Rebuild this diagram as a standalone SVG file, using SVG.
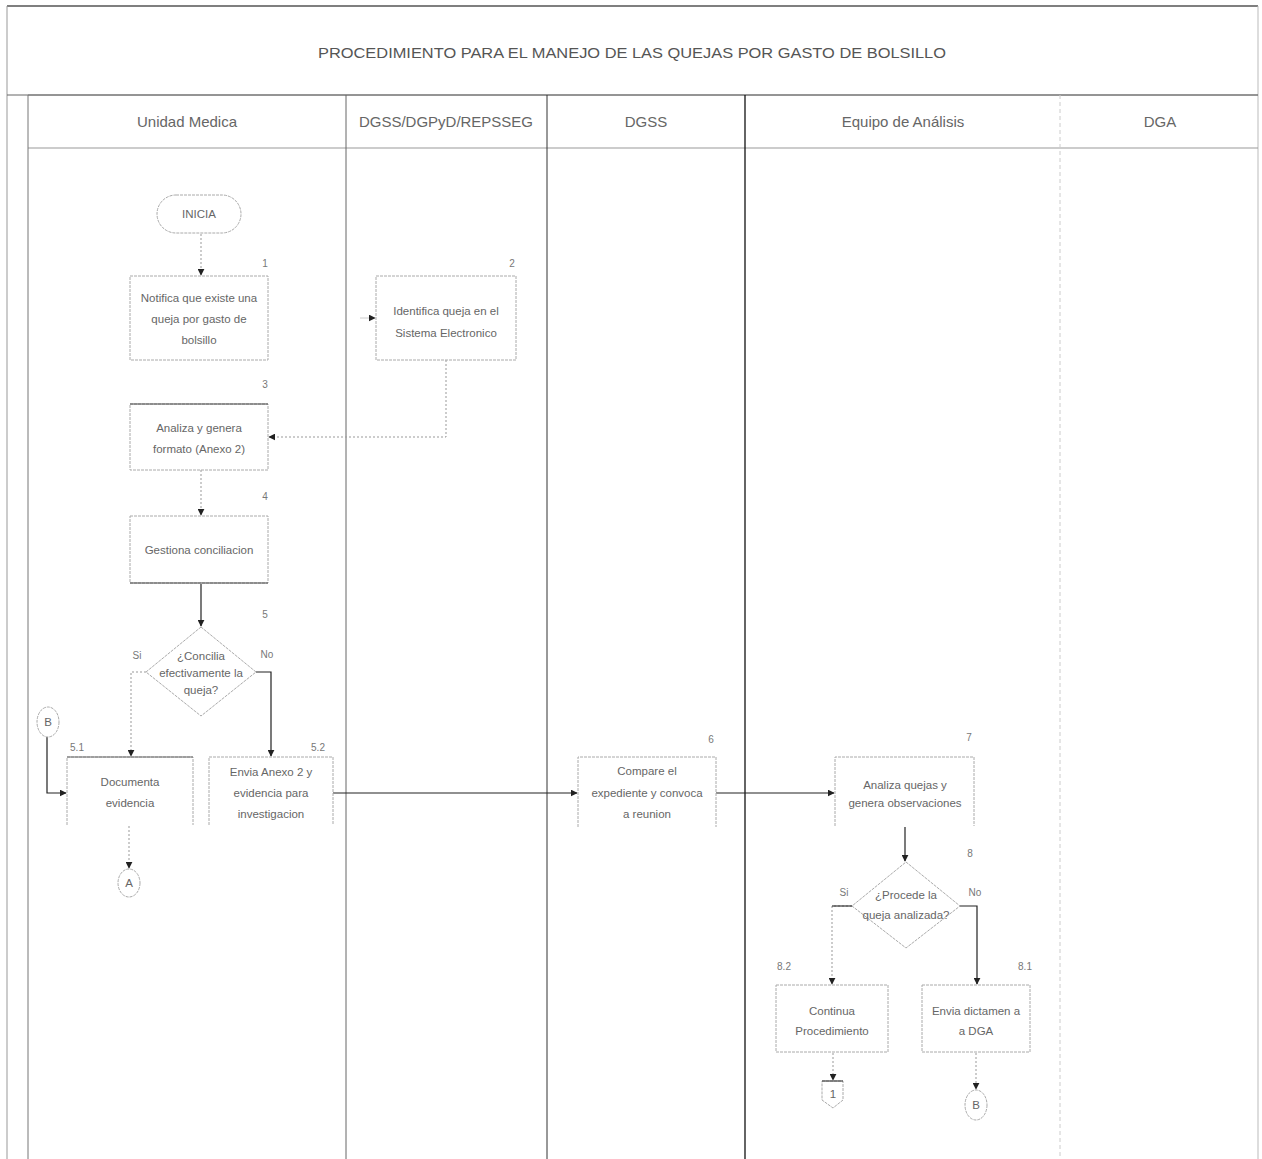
<svg xmlns="http://www.w3.org/2000/svg" width="1262" height="1159" viewBox="0 0 1262 1159">
<defs>
<marker id="ah" viewBox="0 0 10 10" refX="9" refY="5" markerWidth="7" markerHeight="7" orient="auto" markerUnits="userSpaceOnUse">
<path d="M0,0 L10,5 L0,10 z" fill="#222"/>
</marker>
</defs>
<style>
text{font-family:"Liberation Sans",Arial,sans-serif;fill:#555;}
.title{font-size:15px;text-anchor:middle;}
.hdr{font-size:15px;text-anchor:middle;fill:#666;}
.t{font-size:11.5px;text-anchor:middle;fill:#666;}
.n{font-size:10px;text-anchor:middle;fill:#777;}
.box{fill:#fff;stroke:#aaa;stroke-width:1;stroke-dasharray:3 1;}
.dk{stroke:#444;stroke-width:1.2;fill:none;}
.conn{fill:none;stroke:#999;stroke-width:1;stroke-dasharray:2 2;}
.solid{fill:none;stroke:#222;stroke-width:1.2;}
.lane{stroke:#777;stroke-width:1;}
</style>
<rect width="1262" height="1159" fill="#fff"/>
<g id="frame">
<line x1="7" y1="6" x2="1258" y2="6" stroke="#555" stroke-width="1.5"/>
<line x1="7" y1="6" x2="7" y2="1159" stroke="#999"/>
<line x1="1258" y1="6" x2="1258" y2="1159" stroke="#bbb"/>
<line x1="7" y1="95" x2="1258" y2="95" stroke="#666"/>
<line x1="28" y1="95" x2="1258" y2="95" stroke="#777"/>
<line x1="28" y1="148" x2="1258" y2="148" stroke="#999"/>
<line x1="28" y1="95" x2="28" y2="1159" stroke="#777"/>
<line x1="346" y1="95" x2="346" y2="1159" stroke="#666"/>
<line x1="547" y1="95" x2="547" y2="1159" stroke="#333"/>
<line x1="745" y1="95" x2="745" y2="1159" stroke="#111" stroke-width="1.3"/>
<line x1="1060" y1="95" x2="1060" y2="1159" stroke="#ccc" stroke-dasharray="4 3"/>
<text class="title" x="632" y="58" textLength="628" lengthAdjust="spacingAndGlyphs">PROCEDIMIENTO PARA EL MANEJO DE LAS QUEJAS POR GASTO DE BOLSILLO</text>
<text class="hdr" x="187" y="127">Unidad Medica</text>
<text class="hdr" x="446" y="127" textLength="174" lengthAdjust="spacingAndGlyphs">DGSS/DGPyD/REPSSEG</text>
<text class="hdr" x="646" y="127">DGSS</text>
<text class="hdr" x="903" y="127">Equipo de Análisis</text>
<text class="hdr" x="1160" y="127">DGA</text>
</g>
<g id="connectors">
<line class="conn" x1="201" y1="234" x2="201" y2="275" marker-end="url(#ah)"/>
<line x1="360" y1="318" x2="375" y2="318" stroke="#ccc" marker-end="url(#ah)"/>
<polyline class="conn" points="446,360 446,437 269,437" marker-end="url(#ah)"/>
<line class="conn" x1="201" y1="470" x2="201" y2="515" marker-end="url(#ah)"/>
<line class="solid" x1="201" y1="584" x2="201" y2="626" marker-end="url(#ah)"/>
<polyline class="conn" points="146,672 131,672 131,756" marker-end="url(#ah)"/>
<polyline class="solid" points="256,672 271,672 271,756" stroke="#555" marker-end="url(#ah)"/>
<polyline class="solid" points="47,737 47,793 66,793" marker-end="url(#ah)"/>
<line class="conn" x1="129" y1="826" x2="129" y2="868" marker-end="url(#ah)"/>
<line class="solid" x1="333" y1="793" x2="577" y2="793" marker-end="url(#ah)"/>
<line class="solid" x1="716" y1="793" x2="834" y2="793" marker-end="url(#ah)"/>
<line class="solid" x1="905" y1="827" x2="905" y2="861" marker-end="url(#ah)"/>
<polyline class="conn" points="852,906 832,906 832,984" marker-end="url(#ah)"/>
<line x1="832" y1="906" x2="852" y2="906" stroke="#333" stroke-width="1.2"/>
<polyline class="solid" points="960,906 977,906 977,984" marker-end="url(#ah)"/>
<line class="conn" x1="833" y1="1053" x2="833" y2="1080" marker-end="url(#ah)"/>
<line class="conn" x1="976" y1="1053" x2="976" y2="1089" marker-end="url(#ah)"/>
</g>
<g id="start">
<rect x="157" y="195" width="84" height="38" rx="19" class="box"/>
<text class="t" x="199" y="218">INICIA</text>
</g>
<g id="n1">
<rect x="130" y="276" width="138" height="84" class="box"/>
<text class="n" x="265" y="267">1</text>
<text class="t" x="199" y="302">Notifica que existe una</text>
<text class="t" x="199" y="323">queja por gasto de</text>
<text class="t" x="199" y="344">bolsillo</text>
</g>
<g id="n2">
<rect x="376" y="276" width="140" height="84" class="box"/>
<text class="n" x="512" y="267">2</text>
<text class="t" x="446" y="315">Identifica queja en el</text>
<text class="t" x="446" y="337">Sistema Electronico</text>
</g>
<g id="n3">
<rect x="130" y="404" width="138" height="66" class="box"/>
<line x1="130" y1="404" x2="268" y2="404" class="dk"/>
<text class="n" x="265" y="388">3</text>
<text class="t" x="199" y="432">Analiza y genera</text>
<text class="t" x="199" y="453">formato (Anexo 2)</text>
</g>
<g id="n4">
<rect x="130" y="516" width="138" height="67" class="box"/>
<line x1="130" y1="583" x2="268" y2="583" class="dk"/>
<text class="n" x="265" y="500">4</text>
<text class="t" x="199" y="554">Gestiona conciliacion</text>
</g>
<g id="d5">
<polygon points="201,627 256,672 201,716 146,672" class="box"/>
<text class="n" x="265" y="618">5</text>
<text class="t" x="201" y="660">¿Concilia</text>
<text class="t" x="201" y="677">efectivamente la</text>
<text class="t" x="201" y="694">queja?</text>
<text class="n" x="137" y="659">Si</text>
<text class="n" x="267" y="658">No</text>
</g>
<g id="cB1">
<ellipse cx="48" cy="722" rx="11" ry="15" class="box"/>
<text class="t" x="48" y="726">B</text>
</g>
<g id="n51">
<path d="M67,825 L67,757 L193,757 L193,825" class="box"/>
<line x1="67" y1="757" x2="193" y2="757" stroke="#666"/>
<text class="n" x="77" y="751">5.1</text>
<text class="t" x="130" y="786">Documenta</text>
<text class="t" x="130" y="807">evidencia</text>
</g>
<g id="n52">
<path d="M209,825 L209,757 L333,757 L333,825" class="box"/>
<text class="n" x="318" y="751">5.2</text>
<text class="t" x="271" y="776">Envia Anexo 2 y</text>
<text class="t" x="271" y="797">evidencia para</text>
<text class="t" x="271" y="818">investigacion</text>
</g>
<g id="cA">
<ellipse cx="129" cy="883" rx="11" ry="14" class="box"/>
<text class="t" x="129" y="887">A</text>
</g>
<g id="n6">
<path d="M578,827 L578,757 L716,757 L716,827" class="box"/>
<text class="n" x="711" y="743">6</text>
<text class="t" x="647" y="775">Compare el</text>
<text class="t" x="647" y="797">expediente y convoca</text>
<text class="t" x="647" y="818">a reunion</text>
</g>
<g id="n7">
<path d="M835,826 L835,757 L974,757 L974,826" class="box"/>
<text class="n" x="969" y="741">7</text>
<text class="t" x="905" y="789">Analiza quejas y</text>
<text class="t" x="905" y="807">genera observaciones</text>
</g>
<g id="d8">
<polygon points="906,862 960,906 906,948 852,906" class="box"/>
<text class="n" x="970" y="857">8</text>
<text class="t" x="906" y="899">¿Procede la</text>
<text class="t" x="906" y="919">queja analizada?</text>
<text class="n" x="844" y="896">Si</text>
<text class="n" x="975" y="896">No</text>
</g>
<g id="n82">
<rect x="776" y="985" width="112" height="67" class="box"/>
<text class="n" x="784" y="970">8.2</text>
<text class="t" x="832" y="1015">Continua</text>
<text class="t" x="832" y="1035">Procedimiento</text>
</g>
<g id="n81">
<rect x="922" y="985" width="108" height="67" class="box"/>
<text class="n" x="1025" y="970">8.1</text>
<text class="t" x="976" y="1015">Envia dictamen a</text>
<text class="t" x="976" y="1035">a DGA</text>
</g>
<g id="off1">
<path d="M822,1081 L843,1081 L843,1100 L833,1108 L822,1100 z" class="box"/>
<line x1="822" y1="1081" x2="843" y2="1081" stroke="#444" stroke-width="1.2"/>
<text class="t" x="833" y="1098">1</text>
</g>
<g id="cB2">
<ellipse cx="976" cy="1105" rx="11" ry="15" class="box"/>
<text class="t" x="976" y="1109">B</text>
</g>
</svg>
